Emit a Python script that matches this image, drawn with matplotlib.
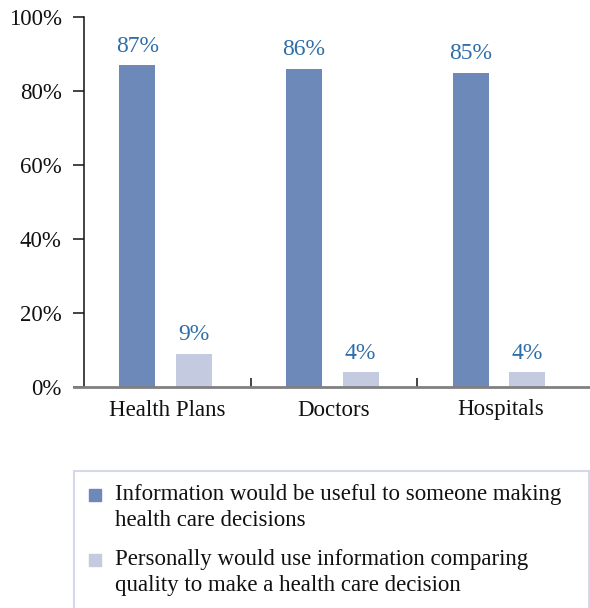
import numpy as np
import matplotlib
matplotlib.use("Agg")
import matplotlib.pyplot as plt
from matplotlib.patches import Rectangle

categories = ["Health Plans", "Doctors", "Hospitals"]
useful = [87, 86, 85]
personal = [9, 4, 4]
series_labels = [
    "Information would be useful to someone making\nhealth care decisions",
    "Personally would use information comparing\nquality to make a health care decision",
]
yticks = [0, 20, 40, 60, 80, 100]

dark = "#6d89ba"
light = "#c4cadf"
label_color = "#2f6ea8"

plt.rcParams["font.family"] = ["Liberation Serif", "DejaVu Serif"]
W, H = 590, 608
fig = plt.figure(figsize=(W / 100, H / 100), dpi=100)
ax = fig.add_axes([84 / W, 221 / H, 500 / W, 370 / H])

ind = np.arange(len(categories))
width = 0.216
b1 = ax.bar(ind - 0.18, useful, width, color=dark, label=series_labels[0])
b2 = ax.bar(ind + 0.16, personal, width, color=light, label=series_labels[1])

for bars, vals in [(b1, useful), (b2, personal)]:
    for r, v in zip(bars, vals):
        ax.annotate(f"{v}%", (r.get_x() + r.get_width() / 2, v),
                    xytext=(0, 6), textcoords="offset points",
                    ha="center", va="bottom", color=label_color, fontsize=17)

ax.set_xlim(-0.5, 2.5)
ax.set_ylim(0, 100)
ax.set_yticks(yticks)
ax.set_yticklabels([f"{t}%" for t in yticks], fontsize=16.5, va="center_baseline")
ax.tick_params(axis="y", direction="out", length=8, width=1.1, pad=8, colors="#111111")
ax.set_xticks(ind)
ax.set_xticklabels(categories, fontsize=16.5)
ax.tick_params(axis="x", which="major", length=0, pad=9, colors="#111111")
ax.set_xticks([0.5, 1.5], minor=True)
ax.tick_params(axis="x", which="minor", direction="in", length=6.5, width=1.1, color="#111111")

for s in ["top", "right", "bottom"]:
    ax.spines[s].set_visible(False)
ax.spines["left"].set_linewidth(1.1)
ax.spines["left"].set_color("#111111")
ax.axhline(0, xmin=-0.02, xmax=1.02, color="#808080", lw=2, clip_on=False, zorder=3)

# legend box, running off the figure edge
fig.patches.append(Rectangle((74 / W, -0.05), (589 - 74) / W, (608 - 471) / H + 0.05,
                             transform=fig.transFigure, fill=False,
                             edgecolor="#d5d8ea", lw=1.5))
tops = [501, 566]
for col, lab, base in zip([dark, light], series_labels, tops):
    fig.patches.append(Rectangle((89 / W, 1 - (base) / H), 12 / W, 12 / H,
                                 transform=fig.transFigure, color=col))
    fig.text(115 / W, 1 - (base - 17) / H, lab, fontsize=16.5, va="top",
             ha="left", linespacing=1.32, color="#111111")

fig.savefig("out.png", dpi=100)
